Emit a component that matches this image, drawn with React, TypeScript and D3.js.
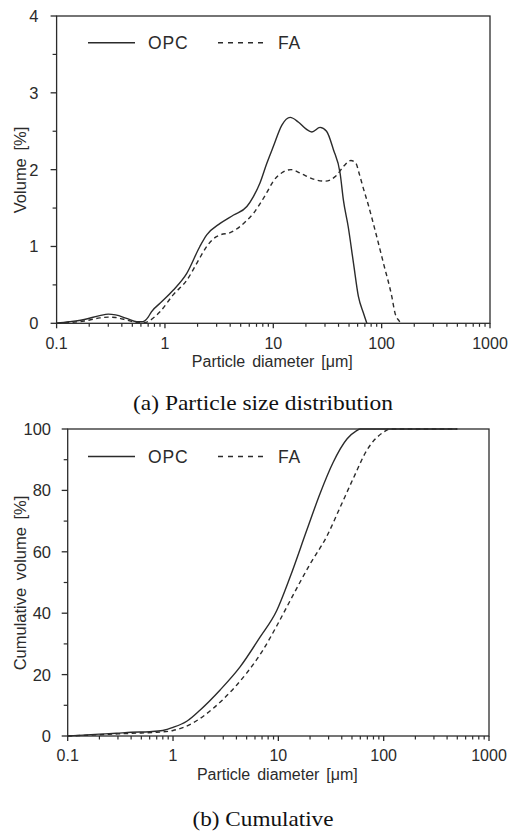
import React from "react";
import * as d3 from "d3";

// ---- Data ----
// (a) Particle size distribution: volume % vs particle diameter (µm)
const psdOpcX = [0.1, 0.13, 0.18, 0.25, 0.3, 0.35, 0.45, 0.55, 0.62, 0.7, 0.75, 0.9, 1.19, 1.59, 2.1, 2.43, 3.23, 4.3, 5.7, 6.55, 7.55, 8.7, 10, 12, 14.3, 17, 20, 22.7, 27, 31, 35.9, 41.4, 44.4, 49.1, 55, 61, 68, 73];
const psdOpcY = [0.0, 0.02, 0.05, 0.1, 0.12, 0.11, 0.06, 0.02, 0.02, 0.08, 0.15, 0.26, 0.43, 0.65, 1.0, 1.15, 1.3, 1.41, 1.52, 1.65, 1.83, 2.08, 2.3, 2.58, 2.68, 2.62, 2.53, 2.49, 2.55, 2.5, 2.26, 1.95, 1.6, 1.26, 0.78, 0.35, 0.13, 0.0];
const psdFaX = [0.1, 0.13, 0.18, 0.25, 0.3, 0.35, 0.45, 0.55, 0.65, 0.73, 0.9, 1.19, 1.59, 2.0, 2.43, 2.8, 3.23, 4.0, 4.93, 5.7, 6.55, 7.5, 8.7, 10, 12, 14.6, 18, 23, 30, 38, 45, 52, 58, 62, 68, 75, 87, 104, 124, 133, 145, 150];
const psdFaY = [0.0, 0.01, 0.03, 0.07, 0.08, 0.075, 0.04, 0.01, 0.01, 0.04, 0.15, 0.37, 0.56, 0.8, 1.0, 1.1, 1.15, 1.18, 1.26, 1.34, 1.43, 1.55, 1.7, 1.85, 1.96, 2.0, 1.95, 1.88, 1.85, 1.92, 2.05, 2.12, 2.08, 1.95, 1.75, 1.55, 1.21, 0.78, 0.35, 0.13, 0.03, 0.0];

// (b) Cumulative volume % vs particle diameter (µm)
const cumOpcX = [0.1, 0.14, 0.2, 0.29, 0.4, 0.6, 0.8, 1.0, 1.35, 1.8, 2.8, 4.33, 6.7, 9.66, 12.9, 18.6, 24.9, 33, 45, 55, 60, 80, 500];
const cumOpcY = [0, 0.3, 0.6, 0.9, 1.2, 1.4, 1.8, 2.8, 4.8, 8.4, 15, 22.5, 32.2, 40.9, 51.7, 67, 79, 89, 96.8, 99.4, 100, 100, 100];
const cumFaX = [0.1, 0.14, 0.2, 0.3, 0.5, 0.7, 1.0, 1.5, 2.0, 3.0, 5.0, 7.0, 9.7, 12.9, 16, 20, 28.8, 38.5, 51.6, 69, 100, 115, 200, 500];
const cumFaY = [0, 0.2, 0.4, 0.7, 1.0, 1.2, 1.8, 4.0, 6.8, 12.0, 20.5, 27.5, 36, 44, 50, 56, 65, 74.4, 84, 93, 99, 100, 100, 100];

const xTickValues = [0.1, 1, 10, 100, 1000];
const xTickLabels = ["0.1", "1", "10", "100", "1000"];
const psdYTicks = [0, 1, 2, 3, 4];
const cumYTicks = [0, 20, 40, 60, 80, 100];
const seriesNames = ["OPC", "FA"];

const INK = "#2b2b2b";
const SANS = "'Liberation Sans', Arial, sans-serif";
const SERIF = "'Liberation Serif', 'Times New Roman', serif";

type PanelProps = {
  left: number; right: number; top: number; bottom: number;
  yMax: number; yTicks: number[]; yMinorStep: number;
  yLabelX: number; yTitle: string; yTitleX: number; yTitleY: number;
  xs: [number[], number[]]; ys: [number[], number[]];
  legendY: number; xTitleY: number; tickLabelY: number;
  caption: string; captionY: number; captionLen: number;
};

function Panel(p: PanelProps) {
  const x = d3.scaleLog().domain([0.1, 1000]).range([p.left, p.right]);
  const y = d3.scaleLinear().domain([0, p.yMax]).range([p.bottom, p.top]);
  const line = d3
    .line<[number, number]>()
    .x((d) => x(d[0]))
    .y((d) => y(d[1]))
    .curve(d3.curveMonotoneX);
  const minorX: number[] = [];
  for (let e = -1; e < 3; e++) {
    for (let m = 2; m <= 9; m++) minorX.push(m * Math.pow(10, e));
  }
  const minorY: number[] = d3.range(p.yMinorStep, p.yMax, p.yMinorStep * 2);
  const paths = [0, 1].map((i) =>
    line(p.xs[i].map((v, j) => [v, p.ys[i][j]] as [number, number])) || ""
  );
  return (
    <g>
      {/* data lines */}
      <path d={paths[0]} fill="none" stroke={INK} strokeWidth={1.4} />
      <path d={paths[1]} fill="none" stroke={INK} strokeWidth={1.4} strokeDasharray="4.5,3.5" />
      {/* frame */}
      <rect x={p.left} y={p.top} width={p.right - p.left} height={p.bottom - p.top} fill="none" stroke={INK} strokeWidth={1.3} />
      {/* y ticks */}
      {p.yTicks.map((t) => (
        <g key={"yt" + t}>
          <line x1={p.left - 6} x2={p.left} y1={y(t)} y2={y(t)} stroke={INK} strokeWidth={1.3} />
          <text x={p.yLabelX} y={y(t)} dy="0.36em" textAnchor="end" fontFamily={SANS} fontSize={16.5} fill={INK}>{t}</text>
        </g>
      ))}
      {minorY.map((t) => (
        <line key={"ym" + t} x1={p.left - 4} x2={p.left} y1={y(t)} y2={y(t)} stroke={INK} strokeWidth={1.2} />
      ))}
      {/* x ticks */}
      {xTickValues.map((t, i) => (
        <g key={"xt" + t}>
          <line x1={x(t)} x2={x(t)} y1={p.bottom} y2={p.bottom + 5} stroke={INK} strokeWidth={1.3} />
          <text x={x(t)} y={p.tickLabelY} textAnchor="middle" fontFamily={SANS} fontSize={16} fill={INK}>{xTickLabels[i]}</text>
        </g>
      ))}
      {minorX.map((t) => (
        <line key={"xm" + t} x1={x(t)} x2={x(t)} y1={p.bottom} y2={p.bottom + 3.5} stroke={INK} strokeWidth={1.2} />
      ))}
      {/* axis titles */}
      <text x={(p.left + p.right) / 2 - 1} y={p.xTitleY} textAnchor="middle" fontFamily={SANS} fontSize={16} fill={INK} wordSpacing={2.5}>
        Particle diameter [μm]
      </text>
      <text transform={`translate(${p.yTitleX},${p.yTitleY}) rotate(-90)`} textAnchor="middle" fontFamily={SANS} fontSize={16.5} fill={INK} wordSpacing={3}>
        {p.yTitle}
      </text>
      {/* legend */}
      <line x1={88} x2={135} y1={p.legendY} y2={p.legendY} stroke={INK} strokeWidth={1.4} />
      <text x={148} y={p.legendY + 6.5} fontFamily={SANS} fontSize={17.5} fill={INK} letterSpacing={0.8}>{seriesNames[0]}</text>
      <line x1={218} x2={263} y1={p.legendY} y2={p.legendY} stroke={INK} strokeWidth={1.4} strokeDasharray="5,5" />
      <text x={278} y={p.legendY + 6.5} fontFamily={SANS} fontSize={17.5} fill={INK} letterSpacing={0.8}>{seriesNames[1]}</text>
      {/* caption */}
      <text x={263} y={p.captionY} textAnchor="middle" fontFamily={SERIF} fontSize={21} fill="#111" textLength={p.captionLen} lengthAdjust="spacingAndGlyphs">
        {p.caption}
      </text>
    </g>
  );
}

export default function App() {
  return (
    <svg width={510} height={834} viewBox="0 0 510 834" style={{ position: "absolute", left: 0, top: 0, background: "#fff" }}>
      <rect x={0} y={0} width={510} height={834} fill="#fff" />
      <Panel
        left={56.6} right={490} top={16} bottom={323.3}
        yMax={4} yTicks={psdYTicks} yMinorStep={0.5}
        yLabelX={38.5} yTitle="Volume [%]" yTitleX={26} yTitleY={170}
        xs={[psdOpcX, psdFaX]} ys={[psdOpcY, psdFaY]}
        legendY={42.7} xTitleY={366.5} tickLabelY={348.5}
        caption="(a) Particle size distribution" captionY={410} captionLen={260}
      />
      <Panel
        left={67.7} right={489} top={429} bottom={736}
        yMax={100} yTicks={cumYTicks} yMinorStep={10}
        yLabelX={51} yTitle="Cumulative volume [%]" yTitleX={26} yTitleY={583}
        xs={[cumOpcX, cumFaX]} ys={[cumOpcY, cumFaY]}
        legendY={456.5} xTitleY={779.5} tickLabelY={761}
        caption="(b) Cumulative" captionY={826} captionLen={141}
      />
    </svg>
  );
}
